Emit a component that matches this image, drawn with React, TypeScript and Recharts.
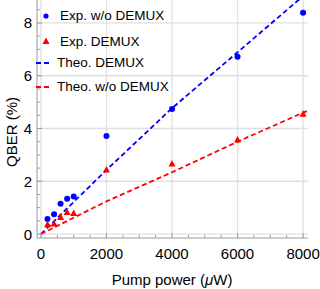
import React from 'react';
import { ComposedChart, Line, Scatter, XAxis, YAxis, ReferenceLine } from 'recharts';

// measured points (pump power in uW, QBER in %)
const pumpPower = [200, 400, 600, 800, 1000, 2000, 4000, 6000, 8000];
const qberNoDemux = [0.57, 0.75, 1.15, 1.34, 1.42, 3.72, 4.74, 6.72, 8.39];
const qberDemux = [0.35, 0.38, 0.63, 0.82, 0.78, 2.43, 2.65, 3.56, 4.54];

// theory curves
const theoPower = [0, 2000, 4000, 6000, 8000, 8150];
const theoDemux = [0, 2.43, 4.77, 6.89, 9.02, 9.18];
const theoNoDemux = [0, 1.24, 2.34, 3.5, 4.6, 4.68];

const xTicks = [0, 500, 1000, 1500, 2000, 2500, 3000, 3500, 4000, 4500, 5000, 5500, 6000, 6500, 7000, 7500, 8000];
const xMajor = [0, 2000, 4000, 6000, 8000];
const yTicks = [0, 0.5, 1, 1.5, 2, 2.5, 3, 3.5, 4, 4.5, 5, 5.5, 6, 6.5, 7, 7.5, 8, 8.5];
const yMajor = [0, 2, 4, 6, 8];

const toPoints = (xs: number[], ys: number[]) => xs.map((x, i) => ({ x, y: ys[i] }));

const expNoDemux = toPoints(pumpPower, qberNoDemux);
const expDemux = toPoints(pumpPower, qberDemux);
const lineDemux = toPoints(theoPower, theoDemux);
const lineNoDemux = toPoints(theoPower, theoNoDemux);

const FONT = '"Liberation Sans", Arial, sans-serif';
const FRAME = '#9a9a9a';
const GRID = '#e0e0e0';
const BLUE = '#0000ff';
const RED = '#ff0000';

const LeftTick = (props: any) => {
  const { x, y, payload } = props;
  const major = yMajor.includes(payload.value);
  return (
    <g>
      <line x1={x} x2={x + (major ? 5 : 3)} y1={y} y2={y} stroke={FRAME} />
      {major && (
        <text x={x - 5} y={y} textAnchor="end" dominantBaseline="central" fontSize={15} fontFamily={FONT} fill="#000">
          {payload.value}
        </text>
      )}
    </g>
  );
};

const RightTick = (props: any) => {
  const { x, y, payload } = props;
  const major = yMajor.includes(payload.value);
  return <line x1={x} x2={x - (major ? 5 : 3)} y1={y} y2={y} stroke={FRAME} />;
};

const BottomTick = (props: any) => {
  const { x, y, payload } = props;
  const major = xMajor.includes(payload.value);
  return (
    <g>
      <line x1={x} x2={x} y1={y} y2={y - (major ? 5 : 3)} stroke={FRAME} />
      {major && (
        <text x={x} y={y + 21} textAnchor="middle" fontSize={15} fontFamily={FONT} fill="#000">
          {payload.value}
        </text>
      )}
    </g>
  );
};

const TopTick = (props: any) => {
  const { x, y, payload } = props;
  const major = xMajor.includes(payload.value);
  return <line x1={x} x2={x} y1={y} y2={y + (major ? 5 : 3)} stroke={FRAME} />;
};

const Dot = (props: any) => <circle cx={props.cx} cy={props.cy} r={3} fill={BLUE} />;

const Tri = (props: any) => {
  const { cx, cy } = props;
  return <polygon points={`${cx},${cy - 4} ${cx + 3.5},${cy + 2.5} ${cx - 3.5},${cy + 2.5}`} fill={RED} />;
};

const Legend = () => (
  <svg width={180} height={100} style={{ position: 'absolute', left: 0, top: 0 }} fontFamily={FONT} fontSize={13.5}>
    <circle cx={46} cy={16} r={2.6} fill={BLUE} />
    <text x={60} y={15} dominantBaseline="central">Exp. w/o DEMUX</text>
    <polygon points="46,37.5 49.5,44 42.5,44" fill={RED} />
    <text x={60} y={41} dominantBaseline="central">Exp. DEMUX</text>
    <line x1={36} x2={50} y1={63} y2={63} stroke={BLUE} strokeWidth={1.8} strokeDasharray="5 3" />
    <text x={57} y={62} dominantBaseline="central">Theo. DEMUX</text>
    <line x1={36} x2={50} y1={87} y2={87} stroke={RED} strokeWidth={1.8} strokeDasharray="5 3" />
    <text x={57} y={86} dominantBaseline="central">Theo. w/o DEMUX</text>
  </svg>
);

const App = () => {
  return (
    <div style={{ position: 'absolute', left: 0, top: 0, width: 320, height: 289, background: '#fff' }}>
      <ComposedChart width={320} height={289} margin={{ top: 0, right: 12, bottom: 0, left: 0 }}>
        <XAxis
          xAxisId="b"
          type="number"
          dataKey="x"
          domain={[-120, 8150]}
          allowDataOverflow
          ticks={xTicks}
          interval={0}
          height={51}
          tickSize={0}
          tickMargin={0}
          tickLine={false}
          axisLine={{ stroke: FRAME }}
          tick={<BottomTick />}
          label={{
            content: () => (
              <text x={172} y={285} textAnchor="middle" fontSize={15} fontFamily={FONT} fill="#000">
                Pump power (<tspan fontStyle="italic">μ</tspan>W)
              </text>
            ),
          }}
        />
        <XAxis
          xAxisId="t"
          orientation="top"
          type="number"
          dataKey="x"
          domain={[-120, 8150]}
          allowDataOverflow
          ticks={xTicks}
          interval={0}
          height={0}
          tickSize={0}
          tickMargin={0}
          tickLine={false}
          axisLine={{ stroke: FRAME }}
          tick={<TopTick />}
        />
        <YAxis
          yAxisId="l"
          type="number"
          domain={[-0.15, 8.87]}
          allowDataOverflow
          ticks={yTicks}
          interval={0}
          width={37}
          tickSize={0}
          tickMargin={0}
          tickLine={false}
          axisLine={{ stroke: FRAME }}
          tick={<LeftTick />}
          label={{
            content: () => (
              <text x={17} y={132} transform="rotate(-90 17 132)" textAnchor="middle" fontSize={15} fontFamily={FONT} fill="#000">
                QBER (%)
              </text>
            ),
          }}
        />
        <YAxis
          yAxisId="r"
          orientation="right"
          type="number"
          domain={[-0.15, 8.87]}
          allowDataOverflow
          ticks={yTicks}
          interval={0}
          width={0}
          tickSize={0}
          tickMargin={0}
          tickLine={false}
          axisLine={{ stroke: FRAME }}
          tick={<RightTick />}
        />
        {xMajor.map((v) => (
          <ReferenceLine key={'gx' + v} xAxisId="b" yAxisId="l" x={v} stroke={GRID} strokeWidth={1.3} />
        ))}
        {yMajor.map((v) => (
          <ReferenceLine key={'gy' + v} xAxisId="b" yAxisId="l" y={v} stroke={GRID} strokeWidth={1.3} />
        ))}
        <Line
          xAxisId="b"
          yAxisId="l"
          data={lineDemux}
          dataKey="y"
          type="linear"
          stroke={BLUE}
          strokeWidth={1.8}
          strokeDasharray="5 3"
          dot={false}
          isAnimationActive={false}
        />
        <Line
          xAxisId="b"
          yAxisId="l"
          data={lineNoDemux}
          dataKey="y"
          type="linear"
          stroke={RED}
          strokeWidth={1.8}
          strokeDasharray="5 3"
          dot={false}
          isAnimationActive={false}
        />
        <Scatter xAxisId="b" yAxisId="l" data={expNoDemux} dataKey="y" shape={<Dot />} isAnimationActive={false} />
        <Scatter xAxisId="b" yAxisId="l" data={expDemux} dataKey="y" shape={<Tri />} isAnimationActive={false} />
      </ComposedChart>
      <Legend />
    </div>
  );
};

export default App;
